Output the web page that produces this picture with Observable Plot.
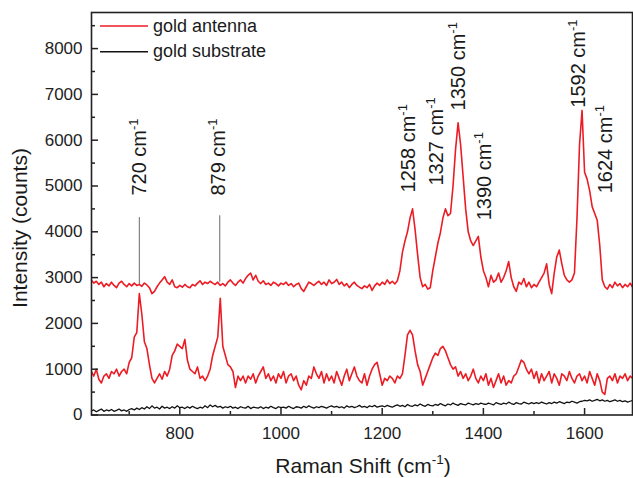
<!DOCTYPE html>
<html>
<head>
<meta charset="utf-8">
<script src="https://cdn.jsdelivr.net/npm/d3@7"></script>
<script src="https://cdn.jsdelivr.net/npm/@observablehq/plot@0.6"></script>
<style>
  html, body { margin: 0; padding: 0; background: #fff; }
  #chart svg { display: block; }
</style>
</head>
<body>
<div id="chart"></div>
<script>
// spectral sampling grid (cm^-1)
const wavenumbers = d3.range(625, 1701, 5);

// gold antenna, upper spectrum (counts)
const antennaUpper = [
  2950, 2880, 2920, 2850, 2900, 2800, 2870, 2820, 2900, 2830, 2780, 2880, 2920, 2850, 2800, 2870, 2820, 2880, 2830, 2850,
  2810, 2880, 2840, 2780, 2650, 2700, 2800, 2880, 2950, 3020, 2900, 2850, 2950, 2800, 2780, 2830, 2790, 2850, 2800, 2780,
  2850, 2820, 2880, 2930, 2850, 2900, 2870, 2920, 2880, 2850, 2900, 2830, 2870, 2820, 2900, 2950, 2880, 2830, 2900, 2950,
  2880, 2980, 3050, 3100, 2950, 3050, 2920, 2870, 2930, 2850, 2880, 2830, 2900, 2870, 2820, 2880, 2850, 2900, 2830, 2870,
  2800, 2850, 2880, 2760, 2700, 2800, 2900, 2870, 2830, 2880, 2920, 2850, 2900, 2830, 2950, 2870, 2900, 2960, 2850, 2900,
  2820, 2870, 2780, 2850, 2900, 2830, 2790, 2760, 2820, 2780, 2850, 2720, 2820, 2880, 2830, 2900, 2850, 2950, 2870, 2920,
  2860, 2930, 3150, 3550, 3800, 4000, 4300, 4500, 4050, 3500, 3000, 2800, 2850, 2750, 2780, 3150, 3450, 3750, 3980, 4300,
  4500, 4350, 4400, 5000, 5800, 6380, 5900, 5200, 4500, 4000, 3800, 3700, 3800, 3900, 3450, 3150, 3000, 2800, 3050, 2900,
  2950, 3100, 2900, 3000, 3150, 3350, 3000, 2800, 2700, 2900, 2850, 2980, 2800, 2900, 2780, 2850, 2800, 2900, 3000, 3100,
  3300, 2850, 2650, 3100, 3450, 3600, 3300, 3050, 2950, 2900, 2950, 3100, 4300, 5900, 6650, 5300, 5150, 4900, 4550, 4400,
  4250, 3700, 2950, 2800, 2750, 2850, 2780, 2900, 2820, 2870, 2780, 2850, 2800, 2880, 2790, 2830
];

// gold antenna, lower spectrum (counts)
const antennaLower = [
  950, 850, 1000, 780, 700, 850, 900, 800, 950, 900, 1000, 850, 950, 1000, 900, 1150, 1250, 1700, 1800, 2650,
  2200, 1600, 1450, 1100, 800, 700, 800, 900, 780, 950, 850, 1000, 1300, 1400, 1550, 1500, 1450, 1650, 1200, 1000,
  950, 900, 1050, 800, 850, 750, 850, 1000, 1300, 1500, 1700, 2550, 1500, 1300, 1100, 1050, 950, 600, 850, 750,
  850, 700, 850, 780, 900, 700, 850, 950, 1050, 800, 900, 750, 850, 700, 900, 800, 950, 700, 850, 900,
  750, 850, 650, 550, 750, 650, 850, 800, 1050, 900, 800, 950, 700, 900, 750, 850, 700, 950, 800, 650,
  850, 1000, 750, 900, 1050, 850, 750, 700, 900, 650, 850, 1000, 1100, 1150, 900, 650, 800, 750, 850, 800,
  700, 850, 800, 900, 1300, 1750, 1850, 1750, 1400, 1100, 950, 650, 800, 950, 1100, 1250, 1350, 1300, 1450, 1500,
  1400, 1250, 1100, 1000, 1050, 850, 950, 800, 900, 750, 850, 1000, 800, 700, 850, 750, 900, 650, 800, 600,
  750, 900, 700, 850, 650, 750, 700, 850, 900, 1050, 1200, 1150, 1000, 900, 1000, 800, 950, 700, 900, 750,
  850, 950, 700, 900, 800, 650, 900, 850, 750, 950, 800, 700, 850, 900, 750, 850, 700, 950, 800, 650,
  900, 750, 500, 450, 800, 850, 750, 900, 700, 850, 800, 900, 750, 850, 800, 900
];

// gold substrate (counts)
const substrate = [
  90, 110, 70, 100, 130, 80, 110, 90, 120, 80, 100, 130, 90, 110, 80, 120,
  140, 110, 150, 120, 160, 130, 180, 140, 200, 150, 170, 130, 190, 150, 170, 140, 180, 150, 200, 160,
  170, 140, 180, 150, 190, 160, 140, 170, 150, 200, 160, 220, 180, 210, 170, 190, 150, 180, 160, 190,
  150, 170, 140, 180, 160, 150, 190, 140, 170, 160, 150, 180, 140, 170, 150, 190, 160, 140, 180, 160,
  170, 150, 190, 160, 140, 180, 170, 150, 190, 160, 200, 170, 150, 180, 160, 190, 170, 150, 180, 200,
  170, 190, 160, 180, 150, 200, 170, 190, 160, 180, 210, 170, 190, 160, 200, 180, 210, 170, 190, 200,
  180, 210, 190, 170, 200, 220, 190, 210, 180, 230, 200, 190, 220, 200, 240, 210, 190, 230, 210, 200,
  230, 210, 250, 220, 200, 240, 220, 260, 230, 210, 250, 230, 220, 260, 240, 220, 250, 230, 260, 240,
  230, 260, 240, 220, 270, 250, 230, 260, 240, 280, 250, 230, 270, 250, 240, 280, 260, 240, 270, 250,
  270, 250, 280, 260, 240, 270, 250, 280, 260, 290, 270, 250, 280, 270, 300, 280, 260, 290, 300, 320,
  310, 330, 300, 320, 340, 310, 330, 300, 320, 290, 310, 330, 300, 320, 290, 310, 280, 300, 320, 290
];

// peak annotations
const peakLabels = ["720 cm-1", "879 cm-1", "1258 cm-1", "1327 cm-1", "1350 cm-1", "1390 cm-1", "1592 cm-1", "1624 cm-1"];
const peakLabelX = [720, 876, 1252, 1308, 1351, 1403, 1588, 1641];
const peakLabelY = [4790, 4790, 4860, 5010, 6650, 4250, 6710, 4840];

// guide lines
const guideX = [720, 879];
const guideLow = [2850, 2900];
const guideHigh = [4310, 4350];

// axes
const xMajor = [800, 1000, 1200, 1400, 1600];
const xMinor = [700, 900, 1100, 1300, 1500];
const yMajor = [0, 1000, 2000, 3000, 4000, 5000, 6000, 7000, 8000];
const yMinor = [500, 1500, 2500, 3500, 4500, 5500, 6500, 7500, 8500];

const seriesNames = ["gold antenna", "gold substrate"];
const seriesColors = ["#ec1c24", "#111111"];

const toPts = arr => wavenumbers.map((x, i) => ({x, y: arr[i]}));

const W = 633, H = 478;
const mL = 91, mR = 1, mT = 12, mB = 63.5;
const plotW = W - mL - mR, plotH = H - mT - mB;
const FONT = "'Liberation Sans', Arial, Helvetica, sans-serif";

const chart = Plot.plot({
  width: W, height: H,
  marginLeft: mL, marginRight: mR, marginTop: mT, marginBottom: mB,
  x: {domain: [625.5, 1694.7]},
  y: {domain: [0, 8788]},
  style: {fontFamily: FONT, fontSize: "17px", color: "#222", background: "#fff"},
  marks: [
    Plot.ruleX(guideX, {x: d => d, y1: (d, i) => guideLow[i], y2: (d, i) => guideHigh[i], stroke: "#6a6a6a", strokeWidth: 1}),
    Plot.line(toPts(substrate), {x: "x", y: "y", stroke: seriesColors[1], strokeWidth: 1.3, clip: true}),
    Plot.line(toPts(antennaLower), {x: "x", y: "y", stroke: seriesColors[0], strokeWidth: 1.6, clip: true}),
    Plot.line(toPts(antennaUpper), {x: "x", y: "y", stroke: seriesColors[0], strokeWidth: 1.6, clip: true}),
    Plot.text(peakLabels, {x: (d, i) => peakLabelX[i], y: (d, i) => peakLabelY[i], text: d => d, rotate: -90, textAnchor: "start", fontSize: 20, fill: "#1a1a1a"}),
    Plot.tickX(xMajor, {x: d => d, insetTop: plotH - 6.5, stroke: "#222", strokeWidth: 1.5}),
    Plot.tickX(xMinor, {x: d => d, insetTop: plotH - 3.5, stroke: "#222", strokeWidth: 1.5}),
    Plot.tickY(yMajor, {y: d => d, insetRight: plotW - 7, stroke: "#222", strokeWidth: 1.5}),
    Plot.tickY(yMinor, {y: d => d, insetRight: plotW - 4, stroke: "#222", strokeWidth: 1.5}),
    Plot.frame({stroke: "#222", strokeWidth: 1.6}),
    Plot.axisX({ticks: xMajor, tickSize: 0, tickPadding: 12, tickFormat: d3.format("d"), label: null, fontSize: 17}),
    Plot.axisY({ticks: yMajor, tickSize: 0, tickPadding: 9, tickFormat: d3.format("d"), label: null, fontSize: 17})
  ]
});

document.getElementById("chart").appendChild(chart);

const svg = d3.select(chart.tagName.toLowerCase() === "svg" ? chart : chart.querySelector("svg"));
const NS = "http://www.w3.org/2000/svg";

// superscript "-1" in peak labels
svg.selectAll("text").each(function() {
  const t = this.textContent;
  if (/cm-1$/.test(t) && this.children.length === 0) {
    this.textContent = t.slice(0, -2);
    const s = document.createElementNS(NS, "tspan");
    s.setAttribute("font-size", 13);
    s.setAttribute("dy", -8);
    s.textContent = "-1";
    this.appendChild(s);
  }
});

// legend
const leg = svg.append("g").attr("font-family", FONT).attr("font-size", 18)
  .attr("fill", "#1a1a1a").attr("text-anchor", "start");
const legY = [26, 51.7];
seriesNames.forEach((name, i) => {
  leg.append("line").attr("x1", 100).attr("x2", 148).attr("y1", legY[i]).attr("y2", legY[i])
    .attr("stroke", seriesColors[i]).attr("stroke-width", 1.6);
  leg.append("text").attr("x", 153).attr("y", legY[i] + 5.5).attr("text-anchor", "start").text(name);
});

// axis titles
const yt = svg.append("text")
  .attr("transform", "translate(26.5,228) rotate(-90)")
  .attr("text-anchor", "middle")
  .attr("font-family", FONT).attr("font-size", 21).attr("fill", "#1a1a1a")
  .text("Intensity (counts)");

const xt = svg.append("text")
  .attr("x", 363).attr("y", 472.5)
  .attr("text-anchor", "middle")
  .attr("font-family", FONT).attr("font-size", 21).attr("fill", "#1a1a1a");
xt.append("tspan").text("Raman Shift (cm");
xt.append("tspan").attr("font-size", 13.5).attr("dy", -8.5).text("-1");
xt.append("tspan").attr("dy", 8.5).text(")");
</script>
</body>
</html>
